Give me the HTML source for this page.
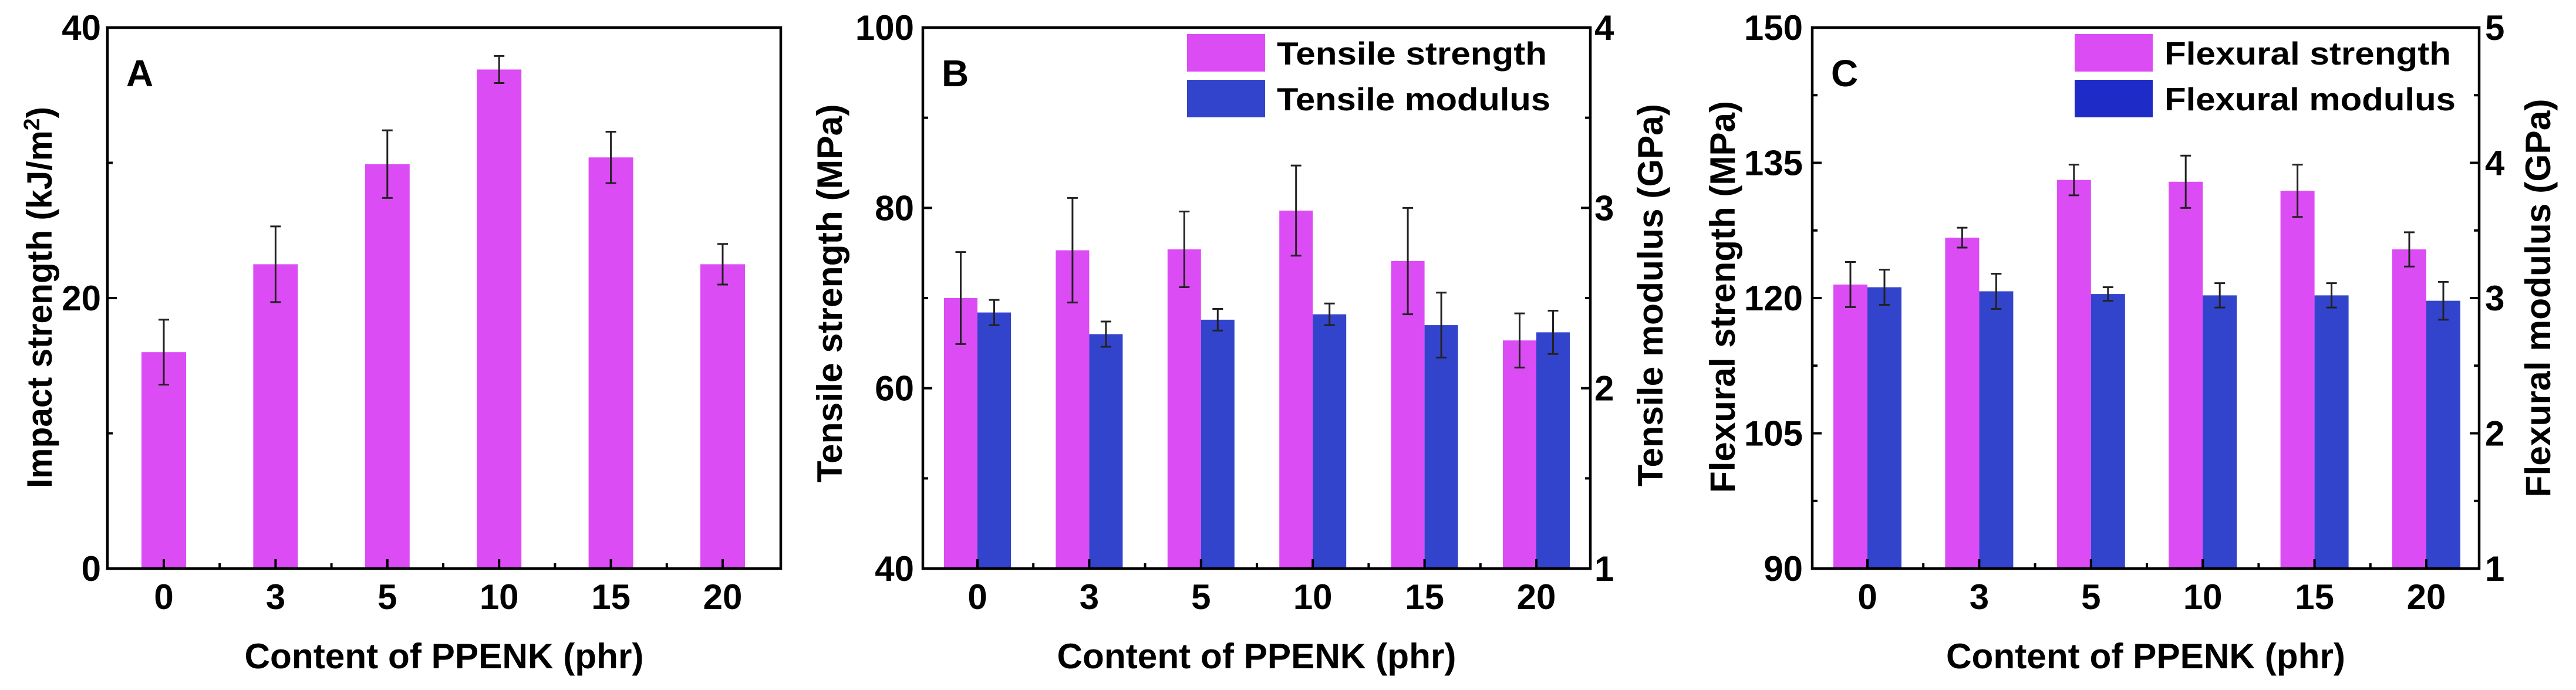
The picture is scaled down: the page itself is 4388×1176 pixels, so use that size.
<!DOCTYPE html>
<html><head><meta charset="utf-8"><style>
html,body{margin:0;padding:0;background:#fff;}
svg{display:block;font-family:"Liberation Sans",Arial,sans-serif;font-weight:bold;}
</style></head>
<body>
<svg id="fig" width="4388" height="1176" viewBox="0 0 4388 1176" xmlns="http://www.w3.org/2000/svg"></svg>
<script>
const categories = ["0","3","5","10","15","20"];
// Panel A
const impactValues = [16.0, 22.5, 29.9, 36.9, 30.4, 22.5];
const impactErrors = [2.4, 2.8, 2.5, 1.0, 1.9, 1.5];
const aTicks = [0, 20, 40];
// Panel B
const tensileStrength = [70.0, 75.3, 75.4, 79.7, 74.1, 65.3];
const tensileStrengthErr = [5.1, 5.8, 4.2, 5.0, 5.9, 3.0];
const tensileModulus = [2.42, 2.30, 2.38, 2.41, 2.35, 2.31];
const tensileModulusErr = [0.07, 0.07, 0.06, 0.06, 0.18, 0.12];
const bLeftTicks = [40, 60, 80, 100];
const bRightTicks = [1, 2, 3, 4];
// Panel C
const flexStrength = [121.5, 126.7, 133.1, 132.9, 131.9, 125.4];
const flexStrengthErr = [2.5, 1.1, 1.7, 2.9, 2.9, 1.9];
const flexModulus = [3.08, 3.05, 3.03, 3.02, 3.02, 2.98];
const flexModulusErr = [0.13, 0.13, 0.05, 0.09, 0.09, 0.14];
const cLeftTicks = [90, 105, 120, 135, 150];
const cRightTicks = [1, 2, 3, 4, 5];

const NS = "http://www.w3.org/2000/svg";
const svg = document.getElementById("fig");
const PINK = "#dc4cf5", BLUE = "#3344cc";
function mk(tag, attrs, parent) {
  const e = document.createElementNS(NS, tag);
  for (const k in attrs) e.setAttribute(k, attrs[k]);
  (parent || svg).appendChild(e);
  return e;
}
function txt(s, attrs, parent) { const t = mk("text", attrs, parent); t.textContent = s; return t; }

function panel(cfg) {
  const g = mk("g", {});
  
  
  const L = cfg.left, R = cfg.right, T = 47, B = 969;
  const yL = v => B - (v - cfg.lmin) / (cfg.lmax - cfg.lmin) * (B - T);
  const yR = v => B - (v - cfg.rmin) / (cfg.rmax - cfg.rmin) * (B - T);
  const step = (cfg.centers[5] - cfg.centers[0]) / 5;
  const xC = i => cfg.centers[0] + i * step;
  const bw = cfg.bw;
  // bars
  cfg.series.forEach((s, si) => {
    const yf = s.axis === "r" ? yR : yL;
    s.vals.forEach((v, i) => {
      let x0;
      if (cfg.series.length === 1) x0 = xC(i) - bw / 2; else x0 = si === 0 ? xC(i) - bw : xC(i);
      const r = mk("rect", {x: x0, y: yf(v), width: bw, height: B - yf(v), fill: s.color}, g);
      
      
    });
  });
  // error bars
  cfg.series.forEach((s, si) => {
    const yf = s.axis === "r" ? yR : yL;
    s.vals.forEach((v, i) => {
      const cx = cfg.series.length === 1 ? xC(i) : (si === 0 ? xC(i) - bw / 2 : xC(i) + bw / 2);
      const e = mk("path", {d: `M${cx},${yf(v + s.err[i])}V${yf(v - s.err[i])}M${cx - 9},${yf(v + s.err[i])}H${cx + 9}M${cx - 9},${yf(v - s.err[i])}H${cx + 9}`, stroke: "#222", "stroke-width": 3, fill: "none"}, g);
      
      
    });
  });
  // frame
  const f = mk("rect", {x: L, y: T, width: R - L, height: B - T, fill: "none", stroke: "#000", "stroke-width": 4.5}, g);
  
  
  // left ticks
  cfg.lticks.forEach((v, i) => {
    mk("line", {x1: L, x2: L + 16, y1: yL(v), y2: yL(v), stroke: "#000", "stroke-width": 4}, g);
    if (i < cfg.lticks.length - 1) {
      const m = (v + cfg.lticks[i + 1]) / 2;
      mk("line", {x1: L, x2: L + 9, y1: yL(m), y2: yL(m), stroke: "#000", "stroke-width": 4}, g);
    }
    const t = txt(String(v), {x: cfg.lLabelX, y: yL(v) + 21, "text-anchor": "end", "font-size": 60}, g);
    
    
  });
  if (cfg.rticks) {
    cfg.rticks.forEach((v, i) => {
      mk("line", {x1: R, x2: R - 16, y1: yR(v), y2: yR(v), stroke: "#000", "stroke-width": 4}, g);
      if (i < cfg.rticks.length - 1) {
        const m = (v + cfg.rticks[i + 1]) / 2;
        mk("line", {x1: R, x2: R - 9, y1: yR(m), y2: yR(m), stroke: "#000", "stroke-width": 4}, g);
      }
      const t = txt(String(v), {x: cfg.rLabelX, y: yR(v) + 21, "text-anchor": "start", "font-size": 60}, g);
      
      
    });
  }
  // x ticks
  categories.forEach((c, i) => {
    mk("line", {x1: xC(i), x2: xC(i), y1: B, y2: B - 16, stroke: "#000", "stroke-width": 4}, g);
    if (i < 5) mk("line", {x1: xC(i) + step / 2, x2: xC(i) + step / 2, y1: B, y2: B - 9, stroke: "#000", "stroke-width": 4}, g);
    const t = txt(c, {x: xC(i), y: 1038, "text-anchor": "middle", "font-size": 60}, g);
    
    
  });
  const xt = txt("Content of PPENK (phr)", {x: (L + R) / 2, y: 1139, "text-anchor": "middle", "font-size": 60, textLength: 680, lengthAdjust: "spacingAndGlyphs"}, g);
  
  
  const yt = mk("text", {x: 0, y: 0, "text-anchor": "middle", "font-size": 60, textLength: cfg.ylen, lengthAdjust: "spacingAndGlyphs", transform: `translate(${cfg.ytX},${cfg.ytY}) rotate(-90)`}, g);
  yt.innerHTML = cfg.ytitle;
  
  
  if (cfg.rtitle) {
    const rt = txt(cfg.rtitle, {x: 0, y: 0, "text-anchor": "middle", "font-size": 60, textLength: cfg.rlen, lengthAdjust: "spacingAndGlyphs", transform: `translate(${cfg.rtX},${cfg.rtY}) rotate(-90)`}, g);
    
    
  }
  const pl = txt(cfg.letter, {x: L + 32, y: 147, "font-size": 64}, g);
  
  
  if (cfg.legend) {
    cfg.legend.forEach((le, i) => {
      const lg = mk("g", {}, g);
      
      
      mk("rect", {x: cfg.legX, y: 58 + i * 78, width: 133, height: 64, fill: le.color}, lg);
      txt(le.label, {x: cfg.legX + 153, y: 110 + i * 78, "font-size": 55, textLength: le.len, lengthAdjust: "spacingAndGlyphs"}, lg);
    });
  }
}

panel({name: "panel-a-impact", letter: "A", left: 183, right: 1330, lmin: 0, lmax: 40, rmin: 0, rmax: 1,
  centers: [279, 0, 0, 0, 0, 1231], bw: 76, lticks: aTicks, lLabelX: 172,
  series: [{key: "impact-strength", vals: impactValues, err: impactErrors, color: PINK, axis: "l"}],
  ytitle: 'Impact strength (kJ/m<tspan baseline-shift="super" font-size="38">2</tspan>)', ylen: 650, ytX: 88, ytY: 507});

panel({name: "panel-b-tensile", letter: "B", left: 1572, right: 2709, lmin: 40, lmax: 100, rmin: 1, rmax: 4,
  centers: [1665, 0, 0, 0, 0, 2617], bw: 57, lticks: bLeftTicks, rticks: bRightTicks, lLabelX: 1557, rLabelX: 2716,
  series: [{key: "tensile-strength", vals: tensileStrength, err: tensileStrengthErr, color: PINK, axis: "l"},
           {key: "tensile-modulus", vals: tensileModulus, err: tensileModulusErr, color: BLUE, axis: "r"}],
  ytitle: "Tensile strength (MPa)", ylen: 645, ytX: 1434, ytY: 500,
  rtitle: "Tensile modulus (GPa)", rlen: 652, rtX: 2832, rtY: 503,
  legX: 2022, legend: [{key: "tensile-strength", label: "Tensile strength", color: PINK, len: 460},
                       {key: "tensile-modulus", label: "Tensile modulus", color: BLUE, len: 466}]});

panel({name: "panel-c-flexural", letter: "C", left: 3087, right: 4223, lmin: 90, lmax: 150, rmin: 1, rmax: 5,
  centers: [3181, 0, 0, 0, 0, 4133], bw: 58, lticks: cLeftTicks, rticks: cRightTicks, lLabelX: 3071, rLabelX: 4233,
  series: [{key: "flexural-strength", vals: flexStrength, err: flexStrengthErr, color: PINK, axis: "l"},
           {key: "flexural-modulus", vals: flexModulus, err: flexModulusErr, color: BLUE, axis: "r"}],
  ytitle: "Flexural strength (MPa)", ylen: 668, ytX: 2955, ytY: 506,
  rtitle: "Flexural modulus (GPa)", rlen: 679, rtX: 4344, rtY: 508,
  legX: 3534, legend: [{key: "flexural-strength", label: "Flexural strength", color: PINK, len: 488},
                       {key: "flexural-modulus", label: "Flexural modulus", color: "#1e2bc6", len: 496}]});
</script>
</body></html>
